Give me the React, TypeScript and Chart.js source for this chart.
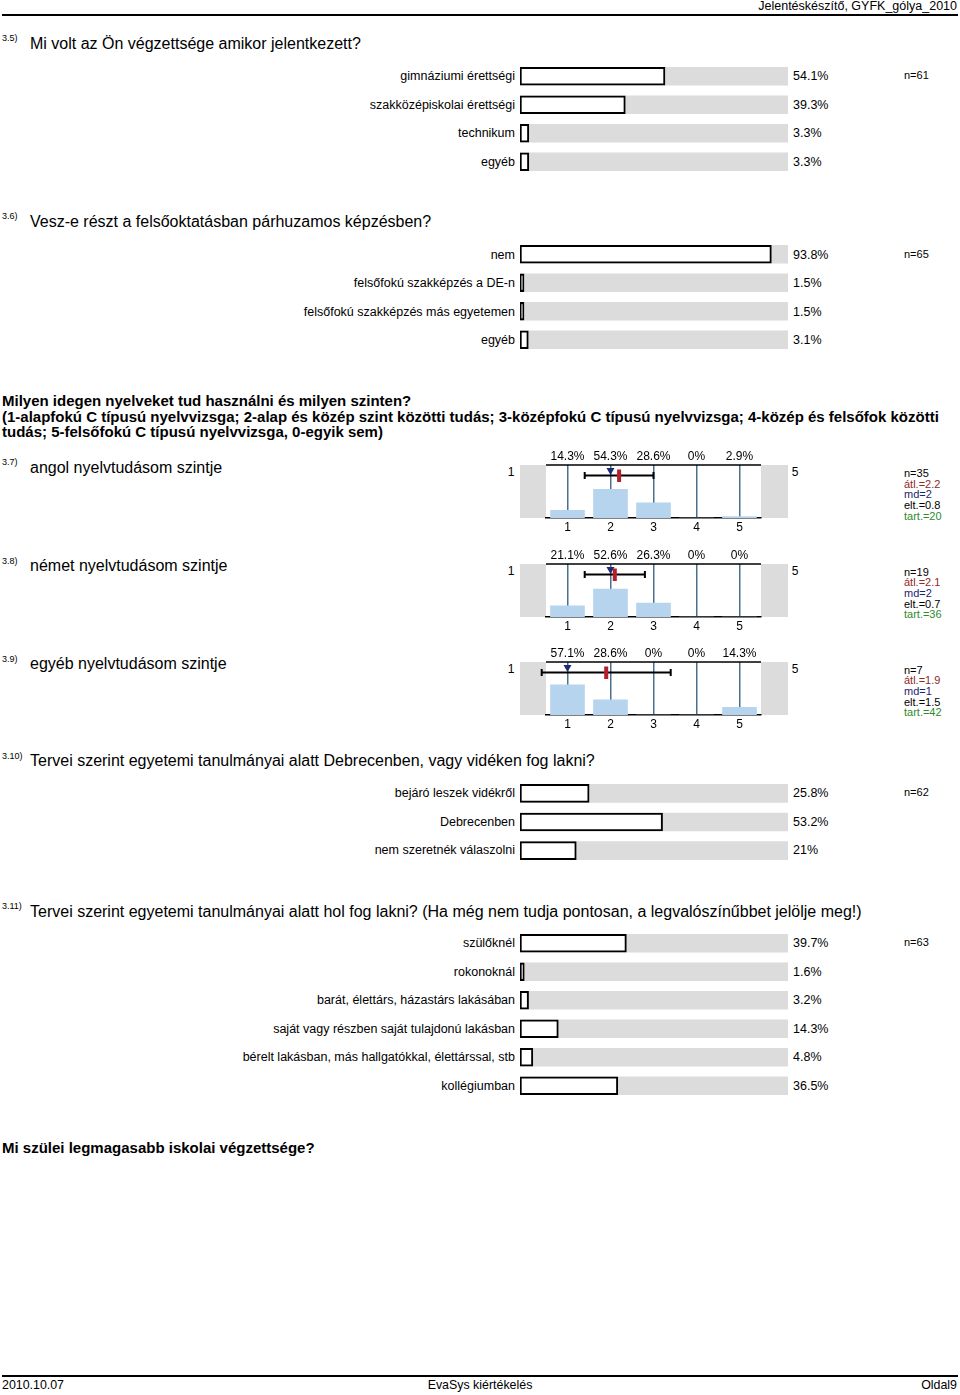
import React, { useEffect, useRef } from 'react';
import { Chart, registerables } from 'chart.js';
Chart.register(...registerables);

const FONT = '"Liberation Sans", Arial, Helvetica, sans-serif';

// ---- Data ----
const q35Labels = ['gimnáziumi érettségi', 'szakközépiskolai érettségi', 'technikum', 'egyéb'];
const q35Values = [54.1, 39.3, 3.3, 3.3];
const q35N = 61;

const q36Labels = ['nem', 'felsőfokú szakképzés a DE-n', 'felsőfokú szakképzés más egyetemen', 'egyéb'];
const q36Values = [93.8, 1.5, 1.5, 3.1];
const q36N = 65;

const scaleCats = [1, 2, 3, 4, 5];
const q37Values = [14.3, 54.3, 28.6, 0, 2.9];
const q37Stats = [35, 2.2, 2, 0.8, 20]; // n, átl., md, elt., tart.
const q38Values = [21.1, 52.6, 26.3, 0, 0];
const q38Stats = [19, 2.1, 2, 0.7, 36];
const q39Values = [57.1, 28.6, 0, 0, 14.3];
const q39Stats = [7, 1.9, 1, 1.5, 42];

const q310Labels = ['bejáró leszek vidékről', 'Debrecenben', 'nem szeretnék válaszolni'];
const q310Values = [25.8, 53.2, 21];
const q310N = 62;

const q311Labels = [
  'szülőknél',
  'rokonoknál',
  'barát, élettárs, házastárs lakásában',
  'saját vagy részben saját tulajdonú lakásban',
  'bérelt lakásban, más hallgatókkal, élettárssal, stb',
  'kollégiumban',
];
const q311Values = [39.7, 1.6, 3.2, 14.3, 4.8, 36.5];
const q311N = 63;

// ---- helpers ----
type TP = {
  x: number; y: number; size?: number; bold?: boolean; color?: string;
  align?: 'left' | 'right' | 'center'; children: React.ReactNode;
};
function T({ x, y, size = 12.5, bold, color = '#000', align = 'left', children }: TP) {
  const tx = align === 'left' ? '0' : align === 'right' ? '-100%' : '-50%';
  return (
    <div
      style={{
        position: 'absolute', left: x, top: y, transform: `translate(${tx},-50%)`,
        fontSize: size, lineHeight: 1, fontWeight: bold ? 'bold' : 'normal', color,
        whiteSpace: 'nowrap', fontFamily: FONT,
      }}
    >
      {children}
    </div>
  );
}

const ROW = 28.5;

function HBar({ y0, labels, values, n }: { y0: number; labels: string[]; values: number[]; n: number }) {
  const ref = useRef<HTMLCanvasElement>(null);
  const h = labels.length * ROW;
  useEffect(() => {
    const chart = new Chart(ref.current as HTMLCanvasElement, {
      type: 'bar',
      data: {
        labels,
        datasets: [
          {
            data: values, backgroundColor: '#ffffff', borderColor: '#000000', borderWidth: 2,
            borderSkipped: false, barThickness: 18, grouped: false, order: 0,
          } as any,
          {
            data: labels.map(() => 100), backgroundColor: '#dcdcdc', borderWidth: 0,
            barThickness: 18, grouped: false, order: 1,
          } as any,
        ],
      },
      options: {
        indexAxis: 'y', responsive: false, animation: false, maintainAspectRatio: false,
        layout: { padding: 0 },
        plugins: { legend: { display: false }, tooltip: { enabled: false } },
        scales: { x: { display: false, min: 0, max: 100 }, y: { display: false } },
      },
    });
    return () => chart.destroy();
  }, []);
  return (
    <>
      <canvas
        ref={ref}
        width={268}
        height={Math.round(h)}
        style={{ position: 'absolute', left: 520, top: Math.round(y0 - ROW / 2), width: 268, height: Math.round(h) }}
      />
      {labels.map((l, i) => (
        <T key={'l' + i} x={515} y={y0 + i * ROW} align="right">{l}</T>
      ))}
      {values.map((v, i) => (
        <T key={'v' + i} x={793} y={y0 + i * ROW}>{`${v}%`}</T>
      ))}
      <T x={904} y={y0 - 1} size={11}>{`n=${n}`}</T>
    </>
  );
}

const distPlugin = {
  id: 'distExtras',
  beforeDraw(chart: any) {
    const { ctx, chartArea: a, width } = chart;
    ctx.save();
    ctx.fillStyle = '#dcdcdc';
    ctx.fillRect(0, a.top, a.left, a.bottom - a.top);
    ctx.fillRect(a.right, a.top, width - a.right, a.bottom - a.top);
    ctx.restore();
  },
  afterDraw(chart: any) {
    const o = chart.options.plugins.distExtras;
    const { ctx, chartArea: a } = chart;
    const x = chart.scales.x;
    ctx.save();
    // top line
    ctx.strokeStyle = '#000';
    ctx.lineWidth = 1.5;
    ctx.beginPath();
    ctx.moveTo(a.left, a.top);
    ctx.lineTo(a.right, a.top);
    ctx.stroke();
    // percentages
    ctx.fillStyle = '#000';
    ctx.font = `12px ${FONT}`;
    ctx.textAlign = 'center';
    ctx.textBaseline = 'middle';
    o.cats.forEach((c: number, i: number) => {
      ctx.fillText(`${o.pcts[i]}%`, x.getPixelForValue(c), a.top - 8);
    });
    // error bar (mean ± sd)
    const ey = a.top + 10.5;
    const x1 = x.getPixelForValue(o.mean - o.sd);
    const x2 = x.getPixelForValue(o.mean + o.sd);
    ctx.lineWidth = 2;
    ctx.beginPath();
    ctx.moveTo(x1, ey); ctx.lineTo(x2, ey);
    ctx.moveTo(x1, ey - 3.5); ctx.lineTo(x1, ey + 3.5);
    ctx.moveTo(x2, ey - 3.5); ctx.lineTo(x2, ey + 3.5);
    ctx.stroke();
    // median triangle
    const mx = x.getPixelForValue(o.md);
    ctx.fillStyle = '#1c2a78';
    ctx.beginPath();
    ctx.moveTo(mx - 4, a.top + 3);
    ctx.lineTo(mx + 4, a.top + 3);
    ctx.lineTo(mx, a.top + 10);
    ctx.closePath();
    ctx.fill();
    // mean marker
    const avx = x.getPixelForValue(o.mean);
    ctx.fillStyle = '#b4202a';
    ctx.fillRect(avx - 2, a.top + 4.5, 4, 12.5);
    ctx.restore();
  },
};

const PT = 19;
const H = 54;
const AX = 18;

function Dist({ T0, num, title, values, stats }: { T0: number; num: string; title: string; values: number[]; stats: number[] }) {
  const ref = useRef<HTMLCanvasElement>(null);
  const [n, mean, md, sd, tart] = stats;
  useEffect(() => {
    const chart = new Chart(ref.current as HTMLCanvasElement, {
      type: 'bar',
      data: {
        datasets: [
          {
            data: scaleCats.map((c, i) => ({ x: c, y: values[i] })),
            backgroundColor: '#b6d4ee', borderWidth: 0, barThickness: 34,
          } as any,
        ],
      },
      options: {
        responsive: false, animation: false, maintainAspectRatio: false,
        layout: { padding: { top: PT, left: 26, right: 27, bottom: 0 } },
        plugins: {
          legend: { display: false }, tooltip: { enabled: false },
          distExtras: { cats: scaleCats, pcts: values, mean, sd, md },
        } as any,
        scales: {
          x: {
            type: 'linear', min: 0.5, max: 5.5, z: 1, offset: false,
            afterBuildTicks: (ax: any) => { ax.ticks = scaleCats.map((v) => ({ value: v })); },
            grid: { color: '#4a7090', lineWidth: 1.5, drawTicks: false, offset: false },
            border: { display: true, color: '#000', width: 1.5 },
            ticks: {
              color: '#000', font: { family: FONT, size: 12, lineHeight: 1 }, padding: 3.5,
              maxRotation: 0, autoSkip: false,
            },
          } as any,
          y: { display: false, min: 0, max: 100 },
        },
      },
      plugins: [distPlugin],
    });
    return () => chart.destroy();
  }, []);
  const statColors = ['#000', '#8e2a2a', '#1c2470', '#000', '#2e8a2e'];
  const statText = [`n=${n}`, `átl.=${mean}`, `md=${md}`, `elt.=${sd}`, `tart.=${tart}`];
  return (
    <>
      <T x={2} y={T0 - 3} size={9}>{num}</T>
      <T x={30} y={T0 + 2.5} size={16}>{title}</T>
      <canvas
        ref={ref}
        width={268}
        height={PT + H + AX}
        style={{ position: 'absolute', left: 520, top: T0 - PT, width: 268, height: PT + H + AX }}
      />
      <T x={511} y={T0 + 7} size={12} align="center">1</T>
      <T x={795} y={T0 + 7} size={12} align="center">5</T>
      {statText.map((s, i) => (
        <T key={i} x={904} y={T0 + 8 + i * 10.7} size={11} color={statColors[i]}>{s}</T>
      ))}
    </>
  );
}

export default function App() {
  useEffect(() => {
    document.body.style.margin = '0';
  }, []);
  return (
    <div style={{ position: 'absolute', left: 0, top: 0, width: 960, height: 1395, background: '#fff', fontFamily: FONT, overflow: 'hidden' }}>
      {/* header */}
      <T x={957} y={6} size={12.5} align="right">Jelentéskészítő, GYFK_gólya_2010</T>
      <div style={{ position: 'absolute', left: 2, top: 14, width: 956, height: 2, background: '#000' }} />

      {/* 3.5 */}
      <T x={2} y={38} size={9}>3.5)</T>
      <T x={30} y={44} size={16}>Mi volt az Ön végzettsége amikor jelentkezett?</T>
      <HBar y0={76.3} labels={q35Labels} values={q35Values} n={q35N} />

      {/* 3.6 */}
      <T x={2} y={216} size={9}>3.6)</T>
      <T x={30} y={222} size={16}>Vesz-e részt a felsőoktatásban párhuzamos képzésben?</T>
      <HBar y0={254.5} labels={q36Labels} values={q36Values} n={q36N} />

      {/* language block */}
      <div
        style={{
          position: 'absolute', left: 2, top: 393, fontSize: 15, lineHeight: '15.5px', fontWeight: 'bold',
          whiteSpace: 'nowrap', fontFamily: FONT,
        }}
      >
        Milyen idegen nyelveket tud használni és milyen szinten?
        <br />
        (1-alapfokú C típusú nyelvvizsga; 2-alap és közép szint közötti tudás; 3-középfokú C típusú nyelvvizsga; 4-közép és felsőfok közötti
        <br />
        tudás; 5-felsőfokú C típusú nyelvvizsga, 0-egyik sem)
      </div>

      <Dist T0={465} num="3.7)" title="angol nyelvtudásom szintje" values={q37Values} stats={q37Stats} />
      <Dist T0={563.5} num="3.8)" title="német nyelvtudásom szintje" values={q38Values} stats={q38Stats} />
      <Dist T0={661.5} num="3.9)" title="egyéb nyelvtudásom szintje" values={q39Values} stats={q39Stats} />

      {/* 3.10 */}
      <T x={2} y={756} size={9}>3.10)</T>
      <T x={30} y={761} size={16}>Tervei szerint egyetemi tanulmányai alatt Debrecenben, vagy vidéken fog lakni?</T>
      <HBar y0={793} labels={q310Labels} values={q310Values} n={q310N} />

      {/* 3.11 */}
      <T x={2} y={906} size={9}>3.11)</T>
      <T x={30} y={912} size={16}>
        Tervei szerint egyetemi tanulmányai alatt hol fog lakni? (Ha még nem tudja pontosan, a legvalószínűbbet jelölje meg!)
      </T>
      <HBar y0={943} labels={q311Labels} values={q311Values} n={q311N} />

      <T x={2} y={1147} size={15} bold>Mi szülei legmagasabb iskolai végzettsége?</T>

      {/* footer */}
      <div style={{ position: 'absolute', left: 2, top: 1375, width: 956, height: 2, background: '#000' }} />
      <T x={2} y={1385} size={12.4}>2010.10.07</T>
      <T x={480} y={1385} size={12.4} align="center">EvaSys kiértékelés</T>
      <T x={957} y={1385} size={12.4} align="right">Oldal9</T>
    </div>
  );
}
